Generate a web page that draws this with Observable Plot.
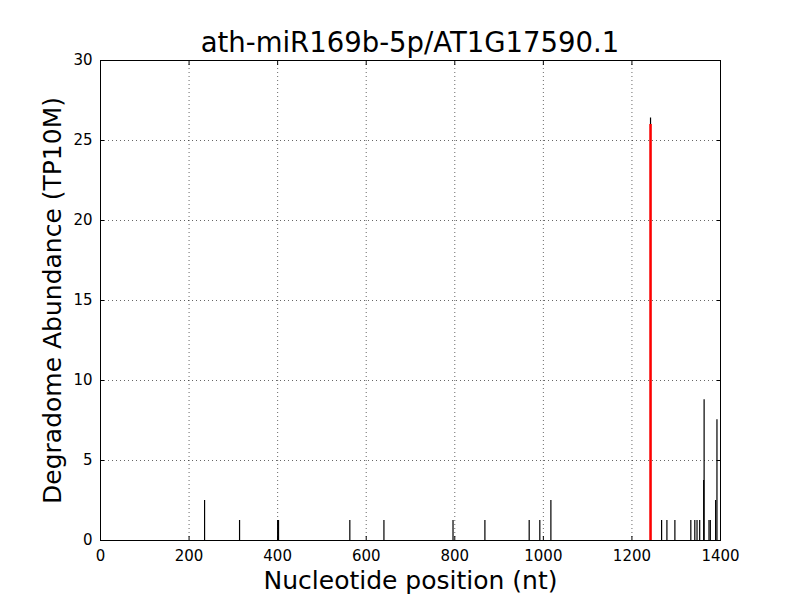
<!DOCTYPE html>
<html>
<head>
<meta charset="utf-8">
<script src="https://cdn.jsdelivr.net/npm/d3@7"></script>
<script src="https://cdn.jsdelivr.net/npm/@observablehq/plot@0.6"></script>
<style>
  body { margin: 0; background: white; font-family: "DejaVu Sans", sans-serif; }
  #wrap { position: relative; width: 800px; height: 600px; padding-top: 50px; box-sizing: border-box; }
  #title { position: absolute; top: 26px; left: 0; width: 820px; text-align: center; font-size: 27.5px; line-height: 32px; color: #000; z-index: 1; }
</style>
</head>
<body>
<div id="wrap">
  <div id="title"></div>
</div>
<script>
const title = "ath-miR169b-5p/AT1G17590.1";
const xLabel = "Nucleotide position (nt)";
const yLabel = "Degradome Abundance (TP10M)";
const positions = [235, 314, 400, 402, 563, 640, 796, 868, 968, 992, 1017, 1242, 1267, 1279, 1297, 1333, 1342, 1347, 1353, 1362, 1363, 1374, 1377, 1389, 1392];
const values    = [2.5, 1.25, 1.25, 1.25, 1.25, 1.25, 1.25, 1.25, 1.25, 1.25, 2.5, 26.4, 1.25, 1.25, 1.25, 1.25, 1.25, 1.25, 1.25, 3.75, 8.8, 1.25, 1.25, 2.5, 7.55];
const targetPosition = [1242];
const targetValue = [26.0];
const xTicks = [0, 200, 400, 600, 800, 1000, 1200, 1400];
const yTicks = [0, 5, 10, 15, 20, 25, 30];

document.getElementById("title").textContent = title;

const data = positions.map((p, i) => ({x: p, y: values[i]}));
const target = targetPosition.map((p, i) => ({x: p, y: targetValue[i]}));
const xGrid = xTicks.slice(1, -1);
const yGrid = yTicks.slice(1, -1);

const chart = Plot.plot({
  width: 800,
  height: 550,
  marginTop: 10,
  marginBottom: 60,
  marginLeft: 100,
  marginRight: 80,
  style: { fontFamily: "DejaVu Sans, sans-serif", fontSize: "15px", color: "#000", background: "transparent", overflow: "visible" },
  x: { domain: [0, 1400] },
  y: { domain: [0, 30] },
  marks: [
    Plot.ruleX(xGrid, { stroke: "#000", strokeWidth: 0.6, strokeDasharray: "1,3" }),
    Plot.ruleY(yGrid, { stroke: "#000", strokeWidth: 0.6, strokeDasharray: "1,3" }),
    Plot.ruleX(data, { x: "x", y1: 0, y2: "y", stroke: "#000", strokeWidth: 1.2 }),
    Plot.ruleX(target, { x: "x", y1: 0, y2: "y", stroke: "#ff0000", strokeWidth: 2.5 }),
    Plot.axisX({ ticks: xTicks, tickSize: -4, tickPadding: 14, fontSize: 15, label: null, tickFormat: d => String(d) }),
    Plot.axisX({ anchor: "top", ticks: xTicks, tickSize: -4, tickFormat: () => "", label: null }),
    Plot.axisY({ ticks: yTicks, tickSize: -4, tickPadding: 12, fontSize: 15, label: null, tickFormat: d => String(d) }),
    Plot.axisY({ anchor: "right", ticks: yTicks, tickSize: -4, tickFormat: () => "", label: null }),
    Plot.frame({ stroke: "#000", strokeWidth: 1 }),
    Plot.text([xLabel], { frameAnchor: "bottom", dy: 48, fontSize: 25, textAnchor: "middle", text: d => d }),
    Plot.text([yLabel], { frameAnchor: "left", dx: -48, rotate: -90, fontSize: 25, textAnchor: "middle", text: d => d })
  ]
});
document.getElementById("wrap").appendChild(chart);
</script>
</body>
</html>
